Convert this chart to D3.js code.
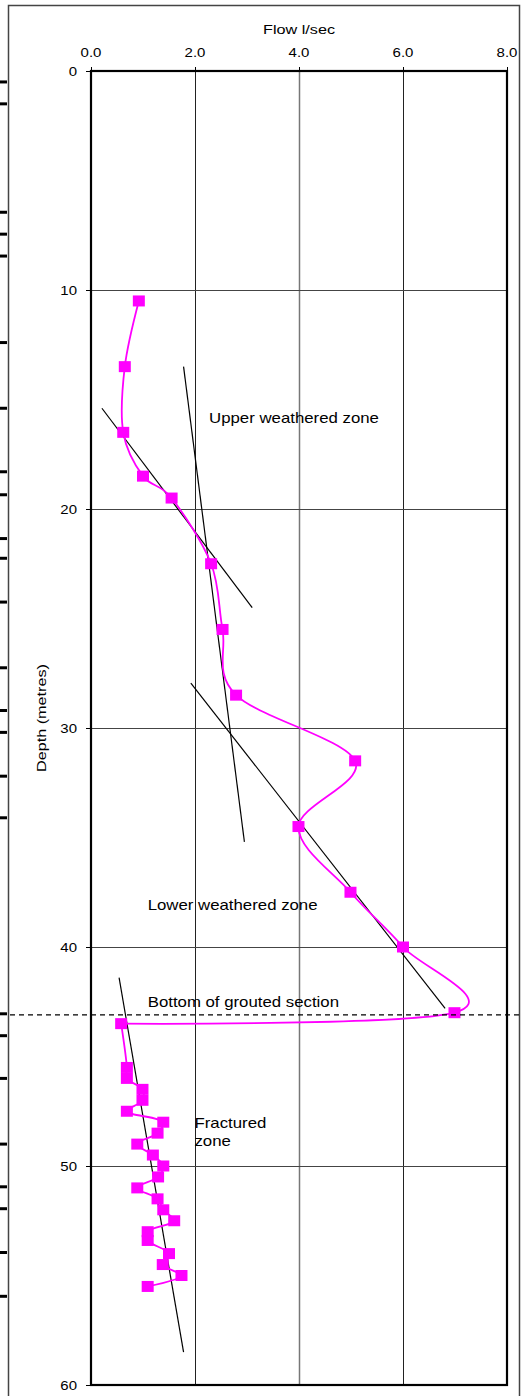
<!DOCTYPE html>
<html>
<head>
<meta charset="utf-8">
<script src="https://cdn.jsdelivr.net/npm/d3@7"></script>
<style>
  html, body { margin: 0; padding: 0; background: #fff; }
  svg { display: block; }
  text { font-family: "Liberation Sans", Arial, sans-serif; fill: #000; }
</style>
</head>
<body>
<svg id="chart" width="523" height="1396"></svg>
<script>
// ---- data ----
const flowValues = [0.92, 0.65, 0.62, 1.0, 1.55, 2.31, 2.53, 2.79, 5.08, 3.99, 4.99, 6.0, 6.99, 0.58,
  0.69, 0.69, 0.99, 0.99, 0.69, 1.39, 1.28, 0.89, 1.19, 1.39, 1.29, 0.89, 1.28, 1.39, 1.6, 1.09, 1.09, 1.5, 1.38, 1.74, 1.09];
const depthValues = [10.5, 13.5, 16.5, 18.5, 19.5, 22.5, 25.5, 28.5, 31.5, 34.5, 37.5, 40.0, 43.0, 43.5,
  45.5, 46.0, 46.5, 47.0, 47.5, 48.0, 48.5, 49.0, 49.5, 50.0, 50.5, 51.0, 51.5, 52.0, 52.5, 53.0, 53.4, 54.0, 54.5, 55.0, 55.5];

// trend lines (flow, depth) start -> end
const trendFlowStart  = [1.78, 0.21, 1.92, 0.54];
const trendDepthStart = [13.5, 15.4, 27.95, 41.4];
const trendFlowEnd    = [2.95, 3.10, 6.81, 1.78];
const trendDepthEnd   = [35.2, 24.5, 42.8, 58.5];

const groutDepth = 43.1;

const xTicks = [0, 2, 4, 6, 8];
const xTickLabels = ["0.0", "2.0", "4.0", "6.0", "8.0"];
const yTicks = [0, 10, 20, 30, 40, 50, 60];
const yTickLabels = ["0", "10", "20", "30", "40", "50", "60"];

const annotationTexts = ["Upper weathered zone", "Lower weathered zone", "Bottom of grouted section", "Fractured", "zone"];
const annotationFlow  = [2.27, 1.09, 1.09, 1.99, 1.99];
const annotationDepth = [16.07, 38.3, 42.73, 48.27, 49.07];

// cut-off tick marks of a neighbouring chart at the left edge (depths)
const edgeMarkDepths = [0.5, 1.5, 6.45, 7.45, 8.45, 12.4, 15.4, 18.3, 19.35, 21.35, 22.25, 24.25, 27.25, 29.2, 30.2,
  32.2, 34.1, 43.05, 44.05, 46.0, 49.0, 50.95, 51.95, 53.95, 55.95];

// ---- layout ----
const svg = d3.select("#chart");
const pLeft = 91, pRight = 507, pTop = 71, pBottom = 1385;
const x = d3.scaleLinear().domain([0, 8]).range([pLeft, pRight]);
const y = d3.scaleLinear().domain([0, 60]).range([pTop, pBottom]);
const SX = 1.2;

function label(txt, px, py, size, anchor, extra) {
  return svg.append("text")
    .attr("transform", `translate(${px},${py}) ${extra || ""} scale(${SX},1)`)
    .attr("font-size", size)
    .attr("text-anchor", anchor || "start")
    .text(txt);
}

// outer frame
svg.append("path")
  .attr("d", `M8.5,1396 L8.5,5.5 L519.5,5.5 L519.5,1396`)
  .attr("fill", "none").attr("stroke", "#444").attr("stroke-width", 1.5);

// edge marks
svg.selectAll(".edge").data(edgeMarkDepths).enter().append("line")
  .attr("x1", 0).attr("x2", 7)
  .attr("y1", d => y(d)).attr("y2", d => y(d))
  .attr("stroke", "#000").attr("stroke-width", 3);

// gridlines
svg.selectAll(".vgrid").data(xTicks.slice(1, -1)).enter().append("line")
  .attr("x1", d => Math.round(x(d)) + 0.5).attr("x2", d => Math.round(x(d)) + 0.5)
  .attr("y1", pTop).attr("y2", pBottom)
  .attr("stroke", d => d === 4 ? "#777" : "#222").attr("stroke-width", d => d === 4 ? 1.5 : 1);
svg.selectAll(".hgrid").data(yTicks.slice(1, -1)).enter().append("line")
  .attr("x1", pLeft).attr("x2", pRight)
  .attr("y1", d => Math.round(y(d)) + 0.5).attr("y2", d => Math.round(y(d)) + 0.5)
  .attr("stroke", "#444").attr("stroke-width", 1);

// axes ticks
svg.selectAll(".ytick").data(yTicks).enter().append("line")
  .attr("x1", pLeft - 5).attr("x2", pLeft)
  .attr("y1", d => Math.round(y(d)) + 0.5).attr("y2", d => Math.round(y(d)) + 0.5)
  .attr("stroke", "#000");
svg.selectAll(".xtick").data(xTicks).enter().append("line")
  .attr("x1", d => Math.round(x(d)) + 0.5).attr("x2", d => Math.round(x(d)) + 0.5)
  .attr("y1", pTop - 4).attr("y2", pTop)
  .attr("stroke", "#000");

// plot border
svg.append("rect")
  .attr("x", pLeft).attr("y", pTop).attr("width", pRight - pLeft).attr("height", pBottom - pTop)
  .attr("fill", "none").attr("stroke", "#000").attr("stroke-width", 2.2);

// tick labels
yTicks.forEach((d, i) => label(yTickLabels[i], 77, y(d) + 4.5, 12.5, "end"));
xTicks.forEach((d, i) => label(xTickLabels[i], x(d), 57, 12.5, "middle"));

// axis titles
label("Flow l/sec", 299, 33.5, 13.5, "middle");
label("Depth (metres)", 45.5, 718, 13.5, "middle", "rotate(-90)");

// trend lines
trendFlowStart.forEach((f, i) => {
  svg.append("line")
    .attr("x1", x(f)).attr("y1", y(trendDepthStart[i]))
    .attr("x2", x(trendFlowEnd[i])).attr("y2", y(trendDepthEnd[i]))
    .attr("stroke", "#000").attr("stroke-width", 1.2);
});

// flow curve (smoothed; the weathered profile and the fractured profile joined at the first fractured point)
const pts = flowValues.map((f, i) => [x(f), y(depthValues[i])]);
const split = depthValues.findIndex(d => d > groutDepth);
svg.append("path")
  .attr("d", d3.line().curve(d3.curveCardinal.tension(0))(pts.slice(0, split + 1)))
  .attr("fill", "none").attr("stroke", "#FF00FF").attr("stroke-width", 1.8);
svg.append("path")
  .attr("d", d3.line().curve(d3.curveCatmullRom.alpha(0.5))(pts.slice(split)))
  .attr("fill", "none").attr("stroke", "#FF00FF").attr("stroke-width", 1.8);

// markers
svg.selectAll(".mk").data(pts).enter().append("rect")
  .attr("x", d => d[0] - 6).attr("y", d => d[1] - 5.5)
  .attr("width", 12).attr("height", 11)
  .attr("fill", "#FF00FF");

// grouted section dashed line
svg.append("line")
  .attr("x1", 10).attr("x2", 523)
  .attr("y1", y(groutDepth)).attr("y2", y(groutDepth))
  .attr("stroke", "#000").attr("stroke-width", 1.2)
  .attr("stroke-dasharray", "5,4");

// annotations
annotationTexts.forEach((t, i) => label(t, x(annotationFlow[i]), y(annotationDepth[i]), 14, "start"));
</script>
</body>
</html>
